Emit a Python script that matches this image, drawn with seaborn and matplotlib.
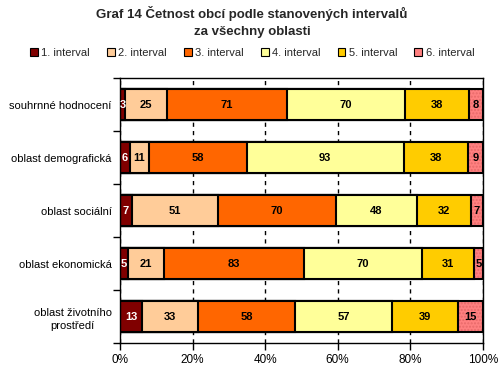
import numpy as np
import pandas as pd
import seaborn as sns
import matplotlib.pyplot as plt
from matplotlib.patches import Patch
from matplotlib.ticker import FixedLocator, PercentFormatter

# kategorie (osa y)
oblasti = [
    "souhrnné hodnocení",
    "oblast demografická",
    "oblast sociální",
    "oblast ekonomická",
    "oblast životního\nprostředí",
]

# počty obcí v jednotlivých intervalech
intervaly = ["1. interval", "2. interval", "3. interval", "4. interval", "5. interval", "6. interval"]
int1 = [3, 6, 7, 5, 13]
int2 = [25, 11, 51, 21, 33]
int3 = [71, 58, 70, 83, 58]
int4 = [70, 93, 48, 70, 57]
int5 = [38, 38, 32, 31, 39]
int6 = [8, 9, 7, 5, 15]

barvy = ["#800000", "#FFCC99", "#FF6600", "#FFFF99", "#FFCC00", "#FF8080"]

sns.set_theme(style="white")
plt.rcParams["font.family"] = ["Liberation Sans", "DejaVu Sans"]

hodnoty = np.array([int1, int2, int3, int4, int5, int6], dtype=float)
podil = hodnoty / hodnoty.sum(axis=0) * 100
kumul = podil.cumsum(axis=0)

fig = plt.figure(figsize=(5.04, 3.77), dpi=100)
fig.patch.set_facecolor("white")
ax = fig.add_axes([0.238, 0.090, 0.72, 0.703])

# skládané sloupce - kreslíme od posledního intervalu (kumulativně)
for i in reversed(range(len(intervaly))):
    df = pd.DataFrame({"oblast": oblasti, "x": kumul[i]})
    if i == 5:
        # tečkovaná výplň 6. intervalu
        sns.barplot(data=df, x="x", y="oblast", orient="h", color=barvy[i],
                    width=0.57, saturation=1, edgecolor="#E86A6A", linewidth=0,
                    hatch=".....", ax=ax, zorder=2)
        sns.barplot(data=df, x="x", y="oblast", orient="h", color=barvy[i],
                    width=0.57, saturation=1, fill=False, edgecolor="black",
                    linewidth=1.5, ax=ax, zorder=2)
    else:
        sns.barplot(data=df, x="x", y="oblast", orient="h", color=barvy[i],
                    width=0.57, saturation=1, edgecolor="black", linewidth=1.5,
                    ax=ax, zorder=2)

# popisky hodnot
for i in range(len(intervaly)):
    for j in range(len(oblasti)):
        ax.text(kumul[i, j] - podil[i, j] / 2, j, f"{int(hodnoty[i, j])}",
                ha="center", va="center", fontsize=8, fontweight="bold",
                color="white" if i == 0 else "black", zorder=5)

ax.set_xlim(0, 100)
ax.set_ylim(len(oblasti) - 0.5, -0.5)
ax.set_xticks(range(0, 101, 20))
ax.xaxis.set_major_formatter(PercentFormatter(decimals=0))
ax.set_xlabel("")
ax.set_ylabel("")

ax.xaxis.grid(True, color="black", linestyle=(0, (3, 3)), linewidth=1)
ax.set_axisbelow(True)

for s in ax.spines.values():
    s.set_color("black")
    s.set_linewidth(1)

ax.tick_params(axis="x", bottom=True, length=5, width=1, direction="out",
               colors="black", labelsize=8.5, pad=3)
ax.tick_params(axis="y", which="major", left=False, length=0, labelsize=8,
               pad=6, colors="black")
ax.yaxis.set_minor_locator(FixedLocator(np.arange(-0.5, len(oblasti), 1)))
ax.tick_params(axis="y", which="minor", left=True, length=5, width=1,
               direction="out", color="black")
for lab in ax.get_yticklabels():
    lab.set_multialignment("center")
    lab.set_linespacing(1.45)

# legenda
handles = [Patch(facecolor=c, edgecolor="black", linewidth=0.8) for c in barvy]
fig.legend(handles, intervaly, loc="center", bbox_to_anchor=(0.5, 0.86), ncol=6,
           frameon=False, fontsize=8, handlelength=0.7, handleheight=0.7,
           handletextpad=0.3, columnspacing=1.55, borderaxespad=0)

fig.text(0.5, 0.985, "Graf 14 Četnost obcí podle stanovených intervalů\nza všechny oblasti",
         ha="center", va="top", fontsize=9.5, fontweight="bold", linespacing=1.6)

fig.savefig("out.png", dpi=100)
